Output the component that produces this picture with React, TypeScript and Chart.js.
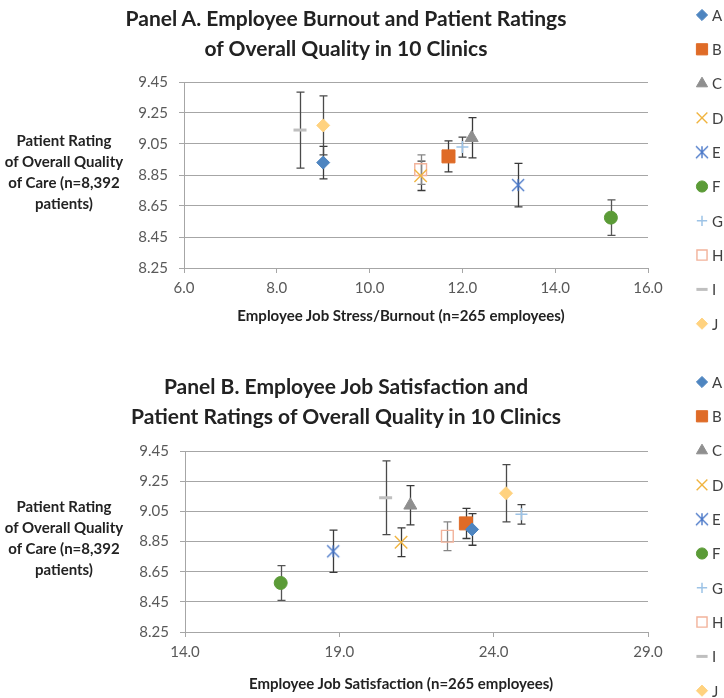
import React, { useEffect, useRef } from 'react';
import { Chart, registerables } from 'chart.js';
import { drawPoint } from 'chart.js/helpers';

Chart.register(...registerables);

// ---------- data ----------
const clinics = ['A', 'B', 'C', 'D', 'E', 'F', 'G', 'H', 'I', 'J'];
const burnoutScores = [9.0, 11.7, 12.2, 11.1, 13.2, 15.2, 12.0, 11.1, 8.5, 9.0];
const satisfactionScores = [23.3, 23.1, 21.3, 21.0, 18.8, 17.1, 24.9, 22.5, 20.5, 24.4];
const qualityRatings = [8.93, 8.97, 9.09, 8.845, 8.785, 8.575, 9.03, 8.885, 9.14, 9.17];
const ratingErrors = [0.105, 0.1, 0.13, 0.095, 0.14, 0.115, 0.065, 0.095, 0.245, 0.19];

const ratingTicks = [8.25, 8.45, 8.65, 8.85, 9.05, 9.25, 9.45];
const burnoutTicks = [6, 8, 10, 12, 14, 16];
const satisfactionTicks = [14, 19, 24, 29];

// ---------- styles ----------
const FONT = 'Lato, "Open Sans", sans-serif';
const markerStyles = [
  { style: 'rectRot', radius: 6.5, fill: '#4E85C0', stroke: '#4E85C0', width: 1 },
  { style: 'rect', radius: 9.2, fill: '#DF6B27', stroke: '#DF6B27', width: 1 },
  { style: 'triangle', radius: 7.5, fill: '#8F8F8F', stroke: '#8F8F8F', width: 1 },
  { style: 'crossRot', radius: 8.8, fill: 'rgba(0,0,0,0)', stroke: '#F0B440', width: 1.4 },
  { style: 'asterisk', radius: 8, fill: 'rgba(0,0,0,0)', stroke: '#4A78C8', width: 1.4 },
  { style: 'circle', radius: 6.5, fill: '#5B9B37', stroke: '#5B9B37', width: 1 },
  { style: 'cross', radius: 6, fill: 'rgba(0,0,0,0)', stroke: '#9DC3E6', width: 1.5 },
  { style: 'rect', radius: 8.3, fill: 'rgba(0,0,0,0)', stroke: '#F2B29A', width: 1.4 },
  { style: 'line', radius: 6.5, fill: '#BFBFBF', stroke: '#BFBFBF', width: 3 },
  { style: 'rectRot', radius: 6.5, fill: '#FFD27F', stroke: '#FFD27F', width: 1 },
];
const errorColors = ['#3a3a3a', '#3a3a3a', '#3a3a3a', '#3a3a3a', '#3a3a3a', '#555555', '#444444', '#858585', '#4a4a4a', '#4a4a4a'];

function makeAsterisk(color: string, half: number, lw: number) {
  const size = Math.ceil(half * 2 + 4);
  const c = document.createElement('canvas');
  c.width = size;
  c.height = size;
  const ctx = c.getContext('2d')!;
  ctx.strokeStyle = color;
  ctx.lineWidth = lw;
  const m = size / 2;
  const d = half * 0.75;
  ctx.beginPath();
  ctx.moveTo(m - d, m - d);
  ctx.lineTo(m + d, m + d);
  ctx.moveTo(m + d, m - d);
  ctx.lineTo(m - d, m + d);
  ctx.moveTo(m, m - d);
  ctx.lineTo(m, m + d);
  ctx.stroke();
  return c;
}

type PanelCfg = {
  xValues: number[];
  xTicks: number[];
  height: number;
  areaTop: number;
  areaBottom: number;
  areaLeft: number;
  areaRight: number;
  legendTop: number;
};

function buildChart(canvas: HTMLCanvasElement, cfg: PanelCfg) {
  const asterisk = makeAsterisk(markerStyles[4].stroke, markerStyles[4].radius, markerStyles[4].width);
  const datasets = clinics.map((name, i) => {
    const st = markerStyles[i];
    return {
      label: name,
      data: [{ x: cfg.xValues[i], y: qualityRatings[i] }],
      errors: [ratingErrors[i]],
      pointStyle: st.style === 'asterisk' ? asterisk : st.style,
      pointRadius: st.radius,
      pointHoverRadius: st.radius,
      pointBackgroundColor: st.fill,
      pointBorderColor: st.stroke,
      pointBorderWidth: st.width,
      showLine: false,
    };
  });

  const errorBarPlugin = {
    id: 'errorBars',
    beforeDatasetsDraw(chart: any) {
      const { ctx } = chart;
      const xs = chart.scales.x;
      const ys = chart.scales.y;
      ctx.save();
      chart.data.datasets.forEach((ds: any, i: number) => {
        ds.data.forEach((p: any, j: number) => {
          const e = ds.errors[j];
          const px = Math.round(xs.getPixelForValue(p.x)) + 0.5;
          const t = ys.getPixelForValue(p.y + e);
          const b = ys.getPixelForValue(p.y - e);
          ctx.strokeStyle = errorColors[i];
          ctx.lineWidth = 1.3;
          ctx.beginPath();
          ctx.moveTo(px, t);
          ctx.lineTo(px, b);
          ctx.moveTo(px - 4, t);
          ctx.lineTo(px + 4, t);
          ctx.moveTo(px - 4, b);
          ctx.lineTo(px + 4, b);
          ctx.stroke();
        });
      });
      ctx.restore();
    },
  };

  const legendPlugin = {
    id: 'sideLegend',
    afterDraw(chart: any) {
      const { ctx } = chart;
      ctx.save();
      chart.data.datasets.forEach((ds: any, i: number) => {
        const st = markerStyles[i];
        const cy = cfg.legendTop + i * 34.3;
        const cx = 702;
        ctx.fillStyle = st.fill;
        ctx.strokeStyle = st.stroke;
        ctx.lineWidth = st.width;
        drawPoint(ctx, { pointStyle: ds.pointStyle, rotation: 0, radius: st.radius * 0.86, borderWidth: st.width } as any, cx, cy);
        ctx.fillStyle = '#404040';
        ctx.font = `15px ${FONT}`;
        ctx.textBaseline = 'middle';
        ctx.textAlign = 'left';
        ctx.fillText(ds.label, 712, cy + 1);
      });
      ctx.restore();
    },
  };

  const xTicks = cfg.xTicks;
  return new Chart(canvas, {
    type: 'scatter',
    data: { datasets } as any,
    plugins: [errorBarPlugin, legendPlugin],
    options: {
      animation: false,
      responsive: false,
      maintainAspectRatio: false,
      devicePixelRatio: 1,
      layout: {
        padding: { top: cfg.areaTop, left: 0, right: 724 - cfg.areaRight, bottom: 0 },
      },
      plugins: {
        legend: { display: false },
        title: { display: false },
        tooltip: { enabled: false },
      },
      scales: {
        x: {
          type: 'linear',
          min: xTicks[0],
          max: xTicks[xTicks.length - 1],
          afterBuildTicks: (s: any) => {
            s.ticks = xTicks.map((v) => ({ value: v }));
          },
          afterFit: (s: any) => {
            s.height = cfg.height - cfg.areaBottom;
          },
          grid: { drawOnChartArea: false, drawTicks: true, tickLength: 5, color: '#a6a6a6', lineWidth: 1 },
          border: { display: true, color: '#a6a6a6', width: 1 },
          ticks: {
            padding: 6,
            color: '#595959',
            font: { family: FONT, size: 15 },
            maxRotation: 0,
            callback: (v: any) => Number(v).toFixed(1),
          },
        },
        y: {
          type: 'linear',
          min: ratingTicks[0],
          max: ratingTicks[ratingTicks.length - 1],
          afterBuildTicks: (s: any) => {
            s.ticks = ratingTicks.map((v) => ({ value: v }));
          },
          afterFit: (s: any) => {
            s.width = cfg.areaLeft;
          },
          grid: { drawTicks: true, tickLength: 5, color: '#a6a6a6', lineWidth: 1 },
          border: { display: true, color: '#a6a6a6', width: 1 },
          ticks: {
            padding: 11,
            color: '#595959',
            font: { family: FONT, size: 15 },
            callback: (v: any) => Number(v).toFixed(2),
          },
        },
      },
    } as any,
  });
}

type PanelProps = {
  top: number;
  cfg: PanelCfg;
  titleLines: string[];
  titleTop: number;
  yLabelTop: number;
  xTitle: string;
  xTitleTop: number;
};

function Panel({ top, cfg, titleLines, titleTop, yLabelTop, xTitle, xTitleTop }: PanelProps) {
  const ref = useRef<HTMLCanvasElement>(null);
  useEffect(() => {
    const chart = buildChart(ref.current!, cfg);
    return () => chart.destroy();
  }, []);
  const textBase: React.CSSProperties = {
    position: 'absolute',
    fontFamily: FONT,
    fontWeight: 700,
    color: '#222222',
    textAlign: 'center',
    whiteSpace: 'nowrap',
  };
  return (
    <div style={{ position: 'absolute', left: 0, top, width: 724, height: cfg.height }}>
      <canvas
        ref={ref}
        width={724}
        height={cfg.height}
        style={{ position: 'absolute', left: 0, top: 0, width: 724, height: cfg.height }}
      />
      <div style={{ ...textBase, left: 0, top: titleTop, width: 692, fontSize: 21, lineHeight: '30px' }}>
        {titleLines.map((l, i) => (
          <div key={i}>{l}</div>
        ))}
      </div>
      <div style={{ ...textBase, left: 0, top: yLabelTop, width: 128, fontSize: 15, lineHeight: '21px' }}>
        <div>Patient Rating</div>
        <div>of Overall Quality</div>
        <div>of Care (n=8,392</div>
        <div>patients)</div>
      </div>
      <div style={{ ...textBase, left: 0, top: xTitleTop, width: 802, fontSize: 15, lineHeight: '20px' }}>{xTitle}</div>
    </div>
  );
}

export default function App() {
  const cfgA: PanelCfg = {
    xValues: burnoutScores,
    xTicks: burnoutTicks,
    height: 349,
    areaTop: 82,
    areaBottom: 268,
    areaLeft: 184,
    areaRight: 648,
    legendTop: 15,
  };
  const cfgB: PanelCfg = {
    xValues: satisfactionScores,
    xTicks: satisfactionTicks,
    height: 349,
    areaTop: 102,
    areaBottom: 283,
    areaLeft: 185,
    areaRight: 648,
    legendTop: 33,
  };
  return (
    <div style={{ position: 'fixed', left: 0, top: 0, width: 724, height: 698, background: '#ffffff', overflow: 'hidden' }}>
      <Panel
        top={0}
        cfg={cfgA}
        titleLines={['Panel A. Employee Burnout and Patient Ratings', 'of Overall Quality in 10 Clinics']}
        titleTop={3}
        yLabelTop={130}
        xTitle="Employee Job Stress/Burnout (n=265 employees)"
        xTitleTop={305}
      />
      <Panel
        top={349}
        cfg={cfgB}
        titleLines={['Panel B. Employee Job Satisfaction and', 'Patient Ratings of Overall Quality in 10 Clinics']}
        titleTop={22}
        yLabelTop={147}
        xTitle="Employee Job Satisfaction (n=265 employees)"
        xTitleTop={324}
      />
    </div>
  );
}
